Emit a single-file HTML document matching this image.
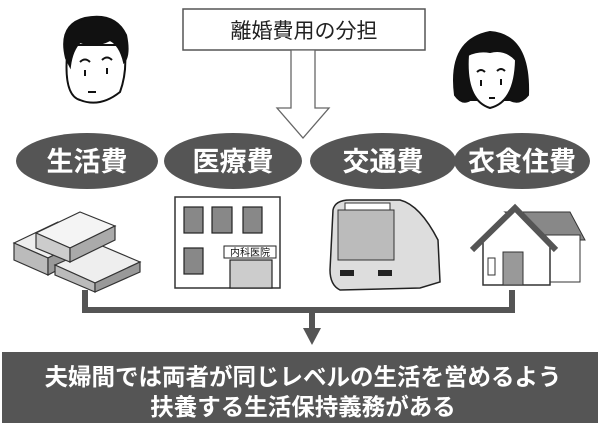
<!DOCTYPE html>
<html><head><meta charset="utf-8"><style>
body{margin:0;width:600px;height:430px;background:#fff;overflow:hidden;font-family:"Liberation Sans","Noto Sans CJK JP",sans-serif}
</style></head><body>
<svg width="600" height="430" viewBox="0 0 600 430" xmlns="http://www.w3.org/2000/svg" font-family="Liberation Sans, Noto Sans CJK JP, sans-serif">
<rect x="183" y="9" width="242" height="41" fill="#fff" stroke="#555" stroke-width="1.5"/>
<text x="304" y="38" font-size="21" text-anchor="middle" fill="#222">離婚費用の分担</text>
<polygon points="291,50 315,50 315,108 329,108 303,138 277,108 291,108" fill="#fff" stroke="#666" stroke-width="1.3"/>
<g stroke="#111" stroke-width="2" fill="#fff">
<path d="M68,45 Q62,95 80,100 Q100,108 120,92 Q128,70 124,45 Z"/>
<path d="M66,58 Q58,25 85,18 Q115,12 126,35 Q130,55 124,62 Q120,45 110,40 Q95,48 80,42 Q72,50 70,66 Z" fill="#111"/>
<path d="M80,62 q5,-5 10,0 M102,60 q5,-5 10,0 M88,92 h8" fill="none"/>
<line x1="85" y1="70" x2="85" y2="76"/><line x1="107" y1="68" x2="107" y2="74"/>
</g>
<g stroke="#111" stroke-width="2" fill="#fff">
<path d="M455,95 Q448,40 490,32 Q530,35 528,95 Q520,105 510,100 L470,100 Q462,105 455,95 Z" fill="#111"/>
<path d="M468,55 Q465,100 490,108 Q515,102 516,60 Q505,48 490,52 Q478,50 468,55 Z"/>
<path d="M477,72 q4,-4 8,0 M497,71 q4,-4 8,0 M489,98 h6" fill="none"/>
<line x1="481" y1="80" x2="481" y2="86"/><line x1="501" y1="79" x2="501" y2="85"/>
</g>
<g fill="#555">
<ellipse cx="87" cy="161" rx="71" ry="28"/>
<ellipse cx="233" cy="161" rx="69" ry="28"/>
<ellipse cx="383" cy="161" rx="73" ry="28"/>
<ellipse cx="522" cy="161" rx="68" ry="28"/>
</g>
<g fill="#fff" font-size="27" text-anchor="middle" font-weight="bold">
<text x="87" y="171">生活費</text>
<text x="233" y="171">医療費</text>
<text x="383" y="171">交通費</text>
<text x="522" y="171">衣食住費</text>
</g>
<g stroke="#333" stroke-width="1.2">
<polygon points="14,243 58,222 92,236 48,258" fill="#eee"/>
<polygon points="14,243 48,258 48,275 14,260" fill="#bbb"/>
<polygon points="48,258 92,236 92,252 48,275" fill="#999"/>
<polygon points="55,265 100,245 140,262 95,283" fill="#eee"/>
<polygon points="55,265 95,283 95,292 55,275" fill="#bbb"/>
<polygon points="95,283 140,262 140,272 95,292" fill="#999"/>
<polygon points="36,233 80,212 115,226 70,248" fill="#f4f4f4"/>
<polygon points="36,233 70,248 70,262 36,248" fill="#ccc"/>
<polygon points="70,248 115,226 115,240 70,262" fill="#aaa"/>
</g>
<rect x="175" y="197" width="105" height="91" fill="#fff" stroke="#333" stroke-width="1.5"/>
<g fill="#888" stroke="#222" stroke-width="1.2">
<rect x="184" y="207" width="19" height="26"/><rect x="212" y="207" width="20" height="26"/><rect x="243" y="207" width="19" height="26"/>
<rect x="184" y="248" width="19" height="26"/><rect x="230" y="260" width="42" height="28" fill="#ccc"/>
</g>
<rect x="224" y="246" width="52" height="12" fill="#fff" stroke="#222"/>
<text x="250" y="256" font-size="10" text-anchor="middle" fill="#111">内科医院</text>
<path d="M333,210 Q335,200 350,200 L400,200 Q420,205 438,240 L440,282 L420,288 L340,290 Q330,285 330,270 Z" fill="#ddd" stroke="#222" stroke-width="1.5"/>
<rect x="338" y="210" width="56" height="50" fill="#bbb" stroke="#333"/>
<rect x="345" y="203" width="45" height="7" fill="#fff" stroke="#333"/>
<rect x="340" y="270" width="14" height="6" fill="#222"/><rect x="378" y="270" width="14" height="6" fill="#222"/>
<polygon points="505,212 570,212 585,240 550,240" fill="#888" stroke="#333"/>
<rect x="545" y="235" width="35" height="47" fill="#fff" stroke="#333"/>
<polygon points="483,240 515,210 550,245 550,285 483,285" fill="#fff" stroke="#333" stroke-width="1.5"/>
<polyline points="472,250 515,208 556,250" fill="none" stroke="#555" stroke-width="6"/>
<rect x="503" y="252" width="20" height="33" fill="#999" stroke="#333"/>
<rect x="488" y="258" width="7" height="17" fill="#fff" stroke="#333"/>
<path d="M85,290 V310 H512 V290" fill="none" stroke="#555" stroke-width="6"/>
<line x1="312" y1="310" x2="312" y2="330" stroke="#555" stroke-width="6"/>
<polygon points="303,328 321,328 312,345" fill="#555"/>
<rect x="2" y="352" width="596" height="71" fill="#555"/>
<g fill="#fff" font-size="23.5" font-weight="bold" text-anchor="middle">
<text x="303" y="385">夫婦間では両者が同じレベルの生活を営めるよう</text>
<text x="303" y="415">扶養する生活保持義務がある</text>
</g>
</svg>
</body></html>
